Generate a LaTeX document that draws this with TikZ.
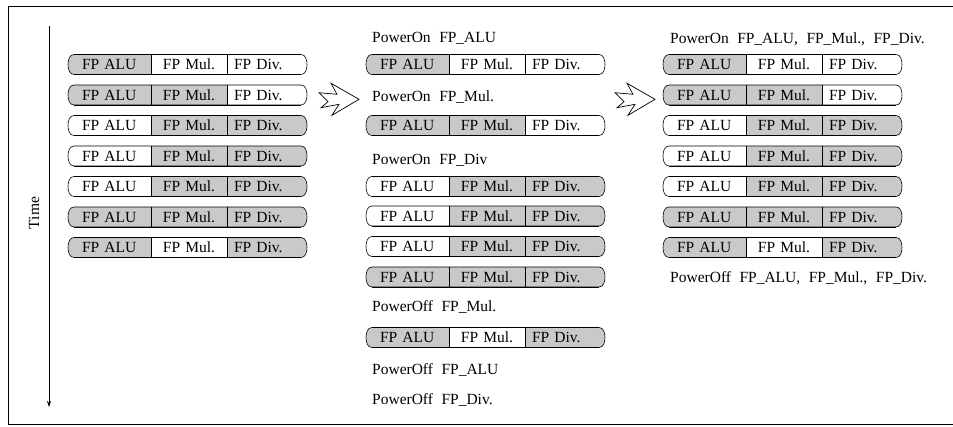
\documentclass[tikz,border=0pt]{standalone}
\usepackage{fontspec}
\setmainfont{Liberation Serif}
\newfontfamily\widespace[WordSpace=2.2]{Liberation Serif}
\usetikzlibrary{positioning, arrows.meta}

\colorlet{pwon}{black!21}
\colorlet{pwoff}{white}

% one bar of three units: name, west point, fill of ALU, Mul., Div.
\newcommand{\fpbar}[5]{%
	\node[unit, fill = #3, inner xsep = 8pt, text width = 61pt, anchor = west] (#1alu) at (#2) {FP ALU};
	\node[unit, fill = #4, inner xsep = 0pt, text width = 76pt, align = center, right = 0pt of #1alu] (#1mul) {FP Mul.};
	\node[unit, fill = #5, inner xsep = 7pt, text width = 60pt, right = 0pt of #1mul] (#1div) {FP Div.};
	\fill[#3] (#1alu.north west) to[out = 180, in = 90] ++(-6,-10) to[out = -90, in = 180] (#1alu.south west) -- cycle;
	\fill[#5] (#1div.north east) to[out = 0, in = 90] ++(6,-10) to[out = -90, in = 0] (#1div.south east) -- cycle;
	\draw[barline] (#1alu.north west) -- (#1div.north east) to[out = 0, in = 90] ++(6,-10) to[out = -90, in = 0] (#1div.south east)
		-- (#1alu.south west) to[out = 180, in = -90] ++(-6,10) to[out = 90, in = 180] (#1alu.north west);
	\draw[barline] (#1alu.north east) -- (#1alu.south east) (#1mul.north east) -- (#1mul.south east);
	\draw[line width = 1.1pt] ([yshift = -0.4pt]#1alu.south west) -- ([yshift = -0.4pt]#1div.south east);
}

\begin{document}
\begin{tikzpicture}[
		x = 1pt, y = 1pt,
		font = \fontsize{15.5}{18}\selectfont,
		unit/.style = {shape = rectangle, minimum height = 20pt, inner ysep = 0pt, outer sep = 0pt, align = left},
		barline/.style = {line width = 0.6pt, line join = round},
		event/.style = {anchor = west, inner sep = 0pt, font = \widespace\fontsize{15.5}{18}\selectfont},
		zigzag/.style = {draw, line width = 0.7pt, line join = miter, fill = white},
	]
	\useasboundingbox (0,0) rectangle (953,426);
	\draw[line width = 0.8pt] (953,420) -- (8,420) -- (8,2) -- (953,2);

	% time axis
	\coordinate (ttop) at (49,400);
	\coordinate (tbot) at (49,19);
	\draw[line width = 0.7pt, -{Stealth[length = 6pt, width = 4pt]}] (ttop) -- (tbot);
	\node[rotate = 90] (timelabel) at (34,213) {Time};

	% before
	\fpbar{l1}{74,361.5}{pwon}{pwoff}{pwoff}
	\fpbar{l2}{74,331}{pwon}{pwon}{pwoff}
	\fpbar{l3}{74,300.5}{pwoff}{pwon}{pwon}
	\fpbar{l4}{74,270}{pwoff}{pwon}{pwon}
	\fpbar{l5}{74,239.5}{pwoff}{pwon}{pwon}
	\fpbar{l6}{74,209}{pwon}{pwon}{pwon}
	\fpbar{l7}{74,178.5}{pwon}{pwoff}{pwon}

	\coordinate (z1) at (359,326.7);
	\draw[zigzag] (z1) -- ++(-28,16) -- ++(6,-11) -- ++(-18,1.6) -- ++(9,-9) -- ++(-7,-6) -- ++(18,3.4) -- ++(-7,-11) -- cycle;

	% every change
	\begin{scope}[xshift = 298]
		\node[event] (m0) at (74,387.5) {PowerOn FP\_ALU};
		\fpbar{m1}{74,361.5}{pwon}{pwoff}{pwoff}
		\node[event] (m1t) at (74,328.5) {PowerOn FP\_Mul.};
		\fpbar{m2}{74,300.5}{pwon}{pwon}{pwoff}
		\node[event] (m2t) at (74,266) {PowerOn FP\_Div};
		\fpbar{m3}{74,239.5}{pwoff}{pwon}{pwon}
		\fpbar{m4}{74,210}{pwoff}{pwon}{pwon}
		\fpbar{m5}{74,179.5}{pwoff}{pwon}{pwon}
		\fpbar{m6}{74,149}{pwon}{pwon}{pwon}
		\node[event] (m6t) at (74,119) {PowerOff FP\_Mul.};
		\fpbar{m7}{74,88.5}{pwon}{pwoff}{pwon}
		\node[event] (m7t) at (74,56) {PowerOff FP\_ALU};
		\node[event] (m8t) at (74,26) {PowerOff FP\_Div.};
	\end{scope}

	\coordinate (z2) at (655,326.7);
	\draw[zigzag] (z2) -- ++(-28,16) -- ++(6,-11) -- ++(-18,1.6) -- ++(9,-9) -- ++(-7,-6) -- ++(18,3.4) -- ++(-7,-11) -- cycle;

	% all at once
	\begin{scope}[xshift = 595]
		\node[event] (r0) at (75,387) {PowerOn FP\_ALU, FP\_Mul., FP\_Div.};
		\fpbar{r1}{74,361.5}{pwon}{pwoff}{pwoff}
		\fpbar{r2}{74,331}{pwon}{pwon}{pwoff}
		\fpbar{r3}{74,300.5}{pwoff}{pwon}{pwon}
		\fpbar{r4}{74,270}{pwoff}{pwon}{pwon}
		\fpbar{r5}{74,239.5}{pwoff}{pwon}{pwon}
		\fpbar{r6}{74,209}{pwon}{pwon}{pwon}
		\fpbar{r7}{74,178.5}{pwon}{pwoff}{pwon}
		\node[event] (r8t) at (75,148) {PowerOff FP\_ALU, FP\_Mul., FP\_Div.};
	\end{scope}
\end{tikzpicture}
\end{document}
